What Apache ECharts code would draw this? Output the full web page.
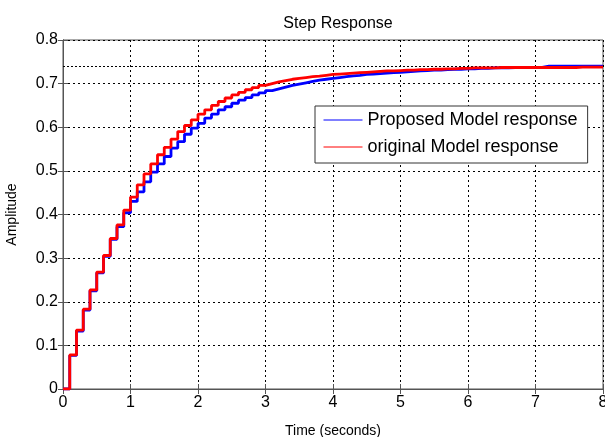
<!DOCTYPE html>
<html>
<head>
<meta charset="utf-8">
<script src="https://cdn.jsdelivr.net/npm/echarts@6/dist/echarts.min.js"></script>
<style>html,body{margin:0;padding:0;background:#fff}#c{width:605px;height:437px}</style>
</head>
<body>
<div id="c"></div>
<script>
// Sample times (s), Ts = 0.1
const sampleTime = 0.1;
const proposedResponse = [
  0, 0.077, 0.133, 0.181, 0.225, 0.266, 0.304, 0.343, 0.372, 0.404,
  0.430, 0.452, 0.475, 0.497, 0.516, 0.533, 0.552, 0.567, 0.584, 0.598,
  0.609, 0.621, 0.630, 0.640, 0.647, 0.655, 0.662, 0.668, 0.674, 0.679,
  0.684, 0.688, 0.692, 0.696, 0.699, 0.702, 0.705, 0.708, 0.710, 0.712,
  0.714, 0.716, 0.718, 0.719, 0.721, 0.722, 0.723, 0.724, 0.725, 0.726,
  0.727, 0.728, 0.729, 0.730, 0.731, 0.731, 0.732, 0.733, 0.733, 0.734,
  0.734, 0.735, 0.735, 0.736, 0.736, 0.736, 0.737, 0.737, 0.737, 0.737,
  0.737, 0.740, 0.740, 0.740, 0.740, 0.740, 0.740, 0.740, 0.740, 0.740,
  0.740
];
const originalResponse = [
  0, 0.078, 0.135, 0.183, 0.227, 0.268, 0.306, 0.345, 0.376, 0.410,
  0.440, 0.468, 0.493, 0.516, 0.537, 0.554, 0.573, 0.590, 0.604, 0.617,
  0.630, 0.640, 0.650, 0.659, 0.667, 0.674, 0.680, 0.686, 0.691, 0.696,
  0.700, 0.704, 0.707, 0.710, 0.712, 0.714, 0.716, 0.717, 0.719, 0.721,
  0.722, 0.723, 0.724, 0.725, 0.726, 0.727, 0.728, 0.729, 0.729, 0.730,
  0.731, 0.731, 0.732, 0.732, 0.733, 0.733, 0.734, 0.734, 0.735, 0.735,
  0.736, 0.736, 0.736, 0.736, 0.737, 0.737, 0.737, 0.737, 0.737, 0.737,
  0.737, 0.737, 0.737, 0.737, 0.737, 0.737, 0.738, 0.738, 0.738, 0.738,
  0.738
];
const steadyState = 0.738;
const seriesNames = ['Proposed Model response', 'original Model response'];
const xTicks = [0, 1, 2, 3, 4, 5, 6, 7, 8];
const yTicks = [0, 0.1, 0.2, 0.3, 0.4, 0.5, 0.6, 0.7, 0.8];

const toPairs = arr => arr.map((v, k) => [+(k * sampleTime).toFixed(2), v]);
const FONT = '"Liberation Sans", Arial, sans-serif';
const gridLine = { show: true, lineStyle: { color: '#000', type: [2, 3], width: 1 } };
const axisLine = { show: true, lineStyle: { color: '#555', width: 1 } };
const tick = { show: true, inside: true, length: 5, lineStyle: { color: '#555' } };

const chart = echarts.init(document.getElementById('c'), null, { renderer: 'canvas' });
chart.setOption({
  backgroundColor: '#fff',
  animation: false,
  textStyle: { fontFamily: FONT },
  title: {
    text: 'Step Response',
    left: 333, top: 11, textAlign: 'center',
    textStyle: { fontFamily: FONT, fontSize: 16, fontWeight: 'normal', color: '#000' }
  },
  grid: { left: 63, right: 2, top: 40, bottom: 48, show: true, borderColor: '#555', borderWidth: 1,
          outerBoundsMode: 'none', containLabel: false },
  legend: {
    orient: 'vertical',
    left: 315, top: 106,
    padding: [4, 10, 6, 8],
    itemGap: 7,
    itemWidth: 39, itemHeight: 14,
    backgroundColor: '#fff',
    borderColor: '#333', borderWidth: 1,
    lineStyle: { width: 1 },
    itemStyle: { opacity: 0 },
    textStyle: { fontFamily: FONT, fontSize: 18, color: '#000', lineHeight: 20 },
    data: [seriesNames[0], seriesNames[1]]
  },
  xAxis: [{
    type: 'value', min: xTicks[0], max: xTicks[xTicks.length - 1], interval: 1,
    name: 'Time (seconds)', nameLocation: 'middle', nameGap: 35,
    nameTextStyle: { fontFamily: FONT, fontSize: 14, color: '#000' },
    axisLine, axisTick: tick, splitLine: gridLine,
    axisLabel: { fontFamily: FONT, fontSize: 16, color: '#000', margin: 6 }
  }, {
    type: 'value', position: 'top', min: 0, max: 8, interval: 1,
    axisLine, axisTick: tick, splitLine: { show: false }, axisLabel: { show: false }
  }],
  yAxis: [{
    type: 'value', min: yTicks[0], max: yTicks[yTicks.length - 1], interval: 0.1,
    name: 'Amplitude', nameLocation: 'middle', nameGap: 44,
    nameTextStyle: { fontFamily: FONT, fontSize: 14, color: '#000' },
    axisLine, axisTick: tick, splitLine: gridLine,
    axisLabel: { fontFamily: FONT, fontSize: 16, color: '#000', margin: 5,
      formatter: v => (Math.abs(v) < 1e-9 ? '0' : (+v.toFixed(1)).toString()) }
  }, {
    type: 'value', position: 'right', min: 0, max: 0.8, interval: 0.1,
    axisLine, axisTick: tick, splitLine: { show: false }, axisLabel: { show: false }
  }],
  series: [{
    name: seriesNames[0], type: 'line', step: 'end', showSymbol: false, symbol: 'none',
    data: toPairs(proposedResponse),
    lineStyle: { color: '#0000ff', width: 2.8 }, itemStyle: { color: '#0000ff' },
    z: 3
  }, {
    name: seriesNames[1], type: 'line', step: 'end', showSymbol: false, symbol: 'none',
    data: toPairs(originalResponse),
    lineStyle: { color: '#ff0000', width: 2.8 }, itemStyle: { color: '#ff0000' },
    z: 4,
    markLine: {
      silent: true, symbol: 'none', label: { show: false },
      lineStyle: { color: '#000', type: [2, 2], width: 1 },
      data: [{ yAxis: steadyState }],
      z: 2
    }
  }]
});
</script>
</body>
</html>
